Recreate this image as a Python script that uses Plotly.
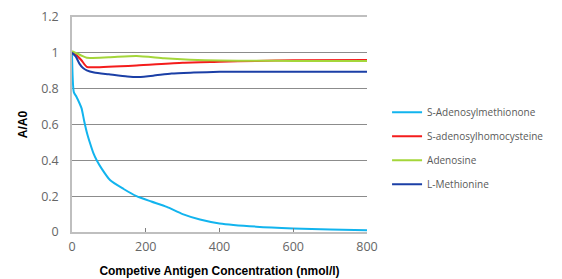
import plotly.graph_objects as go

series_names = ["S-Adenosylmethionone", "S-adenosylhomocysteine", "Adenosine", "L-Methionine"]
series_colors = ["#12B4EE", "#F41C1C", "#A4D63A", "#1B3FA6"]

sam_x = [0, 5, 12, 20, 26, 33, 41, 49, 58, 67, 80, 103, 140, 175, 215, 257, 300, 347, 400, 500, 600, 700, 800]
sam_y = [1.0, 0.78, 0.755, 0.72, 0.69, 0.62, 0.55, 0.495, 0.44, 0.40, 0.355, 0.29, 0.24, 0.20, 0.17, 0.14, 0.10, 0.07, 0.048, 0.03, 0.02, 0.014, 0.01]

sah_x = [0, 10, 25, 40, 60, 175, 300, 400, 500, 600, 800]
sah_y = [1.0, 0.99, 0.96, 0.922, 0.92, 0.93, 0.945, 0.95, 0.955, 0.958, 0.96]

ado_x = [0, 10, 25, 40, 100, 175, 250, 320, 400, 500, 600, 800]
ado_y = [1.01, 1.0, 0.985, 0.972, 0.975, 0.982, 0.97, 0.962, 0.957, 0.956, 0.955, 0.955]

met_x = [0, 10, 20, 30, 40, 60, 100, 150, 180, 220, 270, 330, 400, 500, 800]
met_y = [1.0, 0.98, 0.94, 0.915, 0.902, 0.89, 0.88, 0.868, 0.865, 0.872, 0.885, 0.89, 0.894, 0.895, 0.895]

x_ticks = [0, 200, 400, 600, 800]
y_ticks = [0, 0.2, 0.4, 0.6, 0.8, 1.0, 1.2]
y_tick_text = ["0", "0.2", "0.4", "0.6", "0.8", "1", "1.2"]

xs = [sam_x, sah_x, ado_x, met_x]
ys = [sam_y, sah_y, ado_y, met_y]

fig = go.Figure()
for i, (name, color, x, y) in enumerate(zip(series_names, series_colors, xs, ys)):
    fig.add_trace(go.Scatter(
        x=x, y=y, mode="lines", name=name, legendgroup=f"g{i}",
        line=dict(color=color, width=2, shape="spline", smoothing=0.6),
    ))

# page body has an 8px margin, so the figure is sized to the remaining window
fig.update_layout(
    width=554, height=271,
    margin=dict(l=64, r=195, t=9, b=47, autoexpand=False),
    plot_bgcolor="white", paper_bgcolor="white",
    font=dict(family="Open Sans", color="#595959", size=11),
    legend=dict(
        x=1.068, y=0.39, xanchor="left", yanchor="middle",
        font=dict(family="Open Sans", size=10, color="#595959"),
        itemwidth=30, tracegroupgap=5, bgcolor="rgba(0,0,0,0)",
    ),
    xaxis=dict(
        range=[0, 800], tickvals=x_ticks, showgrid=False, zeroline=False,
        automargin=False,
        showline=True, linecolor="#BFBFBF", linewidth=1.5, mirror=True,
        ticks="inside", ticklen=4, tickcolor="#7F7F7F", ticklabelstandoff=2,
        tickfont=dict(size=12.5, color="#666666"),
        title=dict(text="<b>Competive Antigen Concentration (nmol/l)</b>",
                   font=dict(family="Liberation Sans", size=12, color="#000000"), standoff=13),
    ),
    yaxis=dict(
        range=[0, 1.2], tickvals=y_ticks, ticktext=y_tick_text,
        showgrid=True, gridcolor="#8C8C8C", gridwidth=1.3, zeroline=False,
        automargin=False,
        showline=True, linecolor="#BFBFBF", linewidth=1.5,
        ticks="", ticklabelstandoff=9, tickfont=dict(size=12.5, color="#666666"),
        title=dict(text="<b>A/A0</b>",
                   font=dict(family="Liberation Sans", size=12, color="#000000"), standoff=11),
    ),
)

fig.write_html("out.html")
